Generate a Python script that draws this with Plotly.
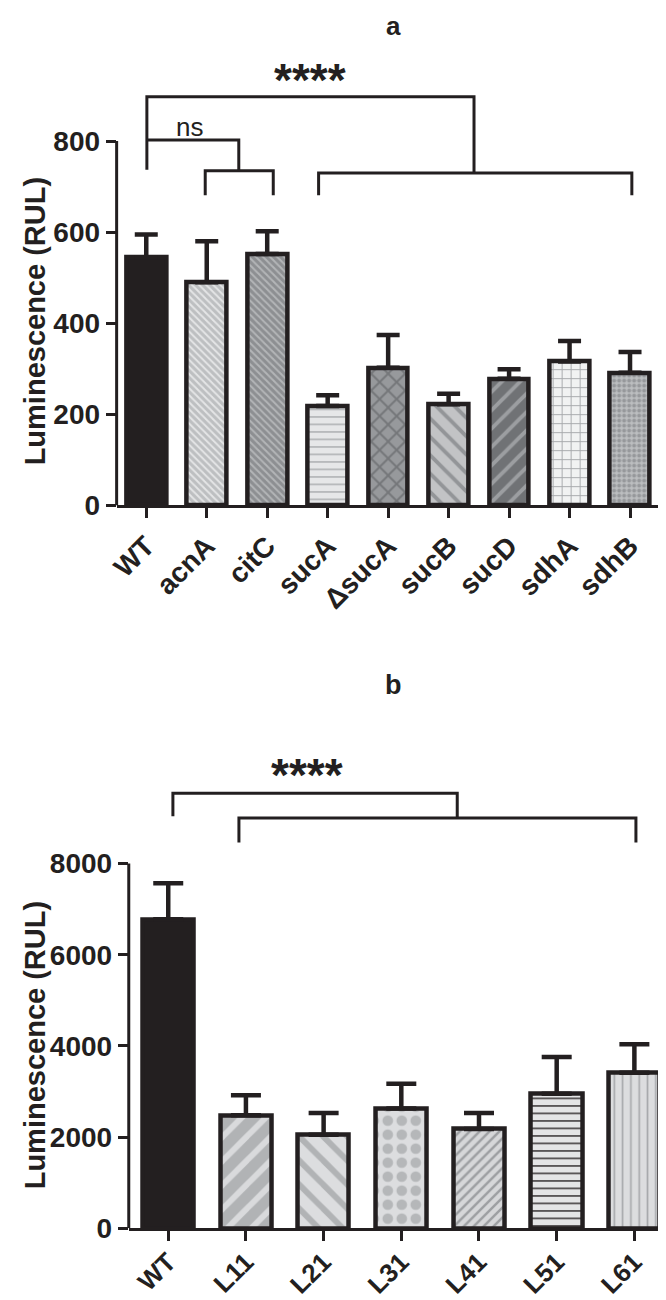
import plotly.graph_objects as go

# ---------------- data ----------------
cats_a = ["WT", "acnA", "citC", "sucA", "ΔsucA", "sucB", "sucD", "sdhA", "sdhB"]
mean_a = [545, 490, 552, 218, 302, 222, 278, 316, 291]
err_a = [50, 90, 50, 24, 72, 23, 21, 45, 46]
ticks_a = [0, 200, 400, 600, 800]

cats_b = ["WT", "L11", "L21", "L31", "L41", "L51", "L61"]
mean_b = [6780, 2480, 2050, 2630, 2180, 2950, 3410]
err_b = [790, 440, 480, 540, 350, 810, 630]
ticks_b = [0, 2000, 4000, 6000, 8000]

INK = "#231f20"
FONT = "Liberation Sans"
W, H = 666, 1300

# ---------------- styles ----------------
shape_a = ["", "\\", "\\", "-", "x", "\\", "/", "+", "."]
bg_a = [INK, "#bdbfc1", "#8d8f92", "#e6e7e8", "#97999c", "#c2c3c5", "#707275", "#f1f2f2", "#bcbec0"]
fg_a = [INK, "#e4e5e6", "#b3b5b7", "#b8babc", "#75777a", "#939598", "#9c9ea1", "#a7a9ac", "#96989b"]
size_a = [8, 5, 5, 7.5, 12, 13, 13, 9, 5]
sol_a = [0.3, 0.4, 0.4, 0.25, 0.3, 0.3, 0.3, 0.2, 0.5]

shape_b = ["", "/", "\\", ".", "/", "-", "|"]
bg_b = [INK, "#b1b3b5", "#dcdddf", "#dcdddf", "#d6d7d9", "#e4e5e6", "#dcdddf"]
fg_b = [INK, "#d9dadc", "#b1b3b5", "#b5b7b9", "#9d9fa2", INK, "#a7a9ac"]
size_b = [8, 17, 17, 14, 7, 7.5, 8.3]
sol_b = [0.3, 0.35, 0.35, 0.45, 0.35, 0.18, 0.2]


def bar_trace(means, errs, shapes, bgs, fgs, sizes, sols, cap, xa, ya):
    n = len(means)
    return go.Bar(
        x=list(range(n)), y=means, width=0.66,
        xaxis=xa, yaxis=ya,
        marker=dict(
            color=INK,
            line=dict(color=INK, width=4.5),
            pattern=dict(shape=shapes, bgcolor=bgs, fgcolor=fgs, size=sizes,
                         solidity=sols, fillmode="overlay", fgopacity=1),
        ),
        error_y=dict(type="data", symmetric=False, array=errs, arrayminus=[0] * n,
                     thickness=4.5, width=cap, color=INK),
        showlegend=False, hoverinfo="skip",
    )


fig = go.Figure()
fig.add_trace(bar_trace(mean_a, err_a, shape_a, bg_a, fg_a, size_a, sol_a, 11.5, "x", "y"))
fig.add_trace(bar_trace(mean_b, err_b, shape_b, bg_b, fg_b, size_b, sol_b, 15, "x2", "y2"))

tickfont = dict(family=FONT, size=28, color=INK, weight="bold")
tickfont_xb = dict(family=FONT, size=26, color=INK, weight="bold")

# panel geometry (pixels)
ax_l, ax_r, ay_b, ay_t = 101.0, 656, 503.6, 60.9
bx_l, bx_r, by_b, by_t = 113.3, 666, 1235.5, 750.9

fig.update_layout(
    width=W, height=H, margin=dict(l=0, r=0, t=0, b=0),
    paper_bgcolor="white", plot_bgcolor="white",
    bargap=0,
    xaxis=dict(domain=[ax_l / W, ax_r / W], range=[-0.49, 8.564], anchor="y",
               tickvals=list(range(len(cats_a))), ticktext=cats_a, tickangle=-45,
               ticks="outside", ticklen=10, tickwidth=3, tickcolor=INK,
               showline=True, linewidth=3, linecolor=INK, showgrid=False, zeroline=False,
               tickfont=tickfont),
    yaxis=dict(domain=[1 - ay_b / H, 1 - ay_t / H], range=[0, 960], anchor="x",
               tickvals=ticks_a, ticks="outside", ticklen=10, tickwidth=3, tickcolor=INK,
               showline=False, showgrid=False, zeroline=False, tickfont=tickfont),
    xaxis2=dict(domain=[bx_l / W, bx_r / W], range=[-0.508, 6.51], anchor="y2",
                tickvals=list(range(len(cats_b))), ticktext=cats_b, tickangle=-45,
                ticks="outside", ticklen=10, tickwidth=3, tickcolor=INK,
                showline=True, linewidth=3, linecolor=INK, showgrid=False, zeroline=False,
                ticklabelstandoff=-5, tickfont=tickfont_xb),
    yaxis2=dict(domain=[1 - by_b / H, 1 - by_t / H], range=[0, 10500], anchor="x2",
                tickvals=ticks_b, ticks="outside", ticklen=10, tickwidth=3, tickcolor=INK,
                showline=False, showgrid=False, zeroline=False, tickfont=tickfont),
)

line = dict(color=INK, width=3)
shapes = [
    # y-axis lines (only up to the top tick)
    dict(type="line", xref="paper", yref="y", x0=ax_l / W, x1=ax_l / W, y0=0, y1=ticks_a[-1], line=line),
    dict(type="line", xref="paper", yref="y2", x0=bx_l / W, x1=bx_l / W, y0=0, y1=ticks_b[-1], line=line),
    # panel a brackets
    dict(type="path", xref="x", yref="y", path="M 0.01,737 L 0.01,897 L 5.42,897 L 5.42,730", line=line),
    dict(type="path", xref="x", yref="y", path="M 2.85,681 L 2.85,730 L 8.03,730 L 8.03,681", line=line),
    dict(type="path", xref="x", yref="y", path="M 0.01,802 L 1.53,802 L 1.53,735", line=line),
    dict(type="path", xref="x", yref="y", path="M 0.975,681 L 0.975,735 L 2.10,735 L 2.10,681", line=line),
    # panel b brackets
    dict(type="path", xref="x2", yref="y2", path="M 0.06,9040 L 0.06,9545 L 3.72,9545 L 3.72,9003", line=line),
    dict(type="path", xref="x2", yref="y2", path="M 0.91,8462 L 0.91,9003 L 6.02,9003 L 6.02,8462", line=line),
]
fig.update_layout(shapes=shapes)

ann = [
    dict(text="a", xref="paper", yref="paper", x=382 / W, y=1 - 1 / H, showarrow=False,
         xanchor="center", yanchor="top",
         font=dict(family=FONT, size=26, color=INK, weight="bold")),
    dict(text="b", xref="paper", yref="paper", x=382 / W, y=1 - 685 / H, showarrow=False,
         xanchor="center", yanchor="middle",
         font=dict(family=FONT, size=27, color=INK, weight="bold")),
    dict(text="****", xref="x", yref="y", x=2.70, y=935, showarrow=False,
         xanchor="center", yanchor="middle",
         font=dict(family=FONT, size=46, color=INK, weight="bold")),
    dict(text="ns", xref="x", yref="y", x=0.72, y=830, showarrow=False,
         xanchor="center", yanchor="middle",
         font=dict(family=FONT, size=26, color=INK)),
    dict(text="****", xref="x2", yref="y2", x=1.79, y=9950, showarrow=False,
         xanchor="center", yanchor="middle",
         font=dict(family=FONT, size=46, color=INK, weight="bold")),
    dict(text="Luminescence (RUL)", xref="paper", yref="paper", x=18.5 / W, y=1 - 317 / H,
         textangle=-90, showarrow=False, xanchor="center", yanchor="middle",
         font=dict(family=FONT, size=29, color=INK, weight="bold")),
    dict(text="Luminescence (RUL)", xref="paper", yref="paper", x=18.5 / W, y=1 - 1050 / H,
         textangle=-90, showarrow=False, xanchor="center", yanchor="middle",
         font=dict(family=FONT, size=29, color=INK, weight="bold")),
]
fig.update_layout(annotations=ann)

fig.write_html("out.html")
